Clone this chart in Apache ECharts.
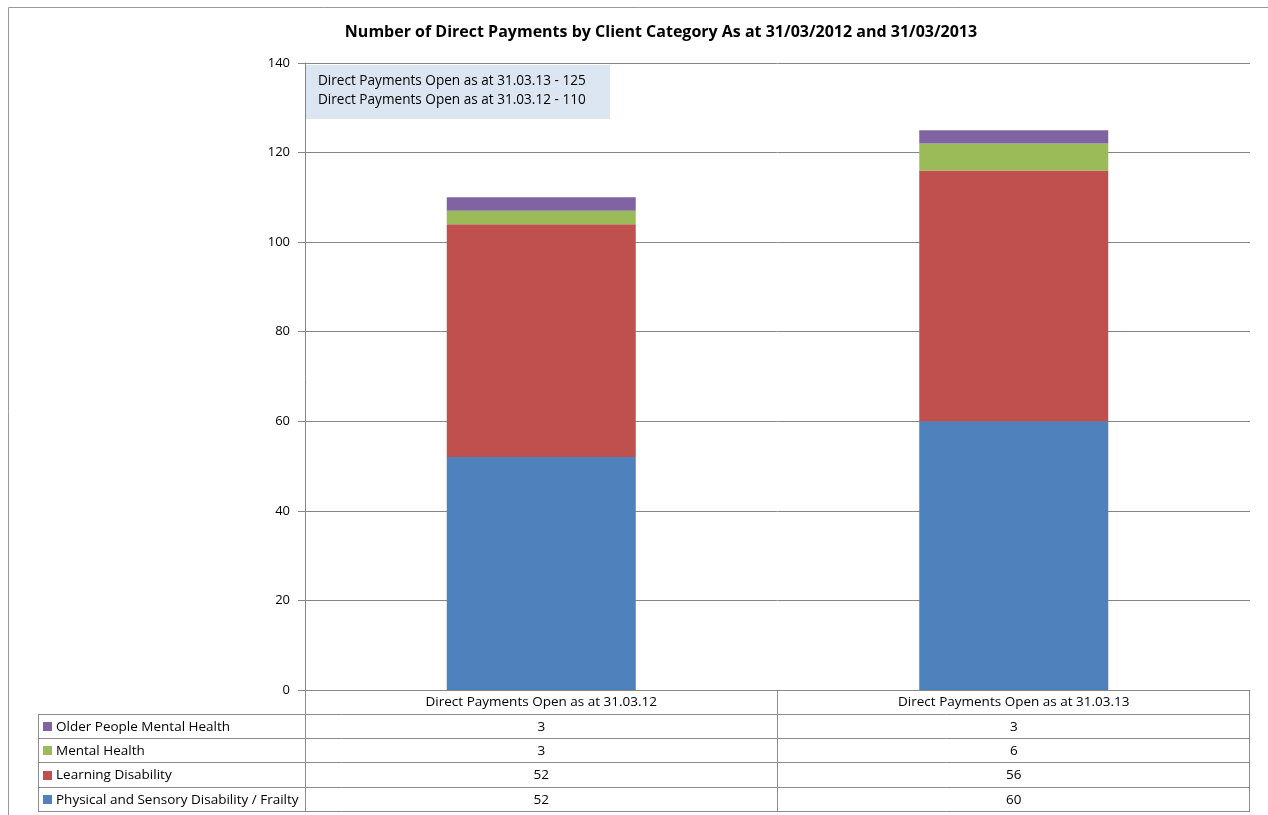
<!DOCTYPE html>
<html>
<head>
<meta charset="utf-8">
<script src="https://cdn.jsdelivr.net/npm/echarts@6/dist/echarts.min.js"></script>
<style>
html,body{margin:0;padding:0;background:#fff;}
#c{width:1268px;height:815px;}
</style>
</head>
<body>
<div id="c"></div>
<script>
const titleText = 'Number of Direct Payments by Client Category As at 31/03/2012 and 31/03/2013';
const categories = ['Direct Payments Open as at 31.03.12', 'Direct Payments Open as at 31.03.13'];
const seriesNames = ['Physical and Sensory Disability / Frailty', 'Learning Disability', 'Mental Health', 'Older People Mental Health'];
const physical = [52, 60];
const learning = [52, 56];
const mentalHealth = [3, 6];
const olderMental = [3, 3];
const seriesColors = ['#4f81bd', '#c0504d', '#9bbb59', '#8064a2'];
const yMin = 0, yMax = 140, yStep = 20;
const noteLines = ['Direct Payments Open as at 31.03.13 - 125', 'Direct Payments Open as at 31.03.12 - 110'];

const FONT = '"Open Sans", "Liberation Sans", sans-serif';
const seriesData = [physical, learning, mentalHealth, olderMental];

const chart = echarts.init(document.getElementById('c'));
const gridL = 305, gridR = 18, gridT = 63, gridB = 125;

chart.setOption({
  animation: false,
  backgroundColor: '#fff',
  grid: { left: gridL, right: gridR, top: gridT, bottom: gridB, containLabel: false },
  xAxis: {
    type: 'category',
    data: categories,
    axisLine: { lineStyle: { color: '#868686', width: 1 } },
    axisTick: { show: false },
    axisLabel: { color: '#000', fontFamily: FONT, fontSize: 13.5, margin: 5 }
  },
  yAxis: {
    type: 'value',
    min: yMin, max: yMax, interval: yStep,
    axisLine: { show: true, lineStyle: { color: '#868686', width: 1 } },
    axisTick: { show: true, length: 7, lineStyle: { color: '#868686' } },
    axisLabel: { color: '#000', fontFamily: FONT, fontSize: 13, margin: 15 },
    splitLine: { lineStyle: { color: '#868686', width: 1 } }
  },
  series: seriesNames.map((n, i) => ({
    name: n,
    type: 'bar',
    stack: 'total',
    barWidth: '40%',
    data: seriesData[i],
    itemStyle: { color: seriesColors[i] }
  }))
});

const elements = [];
elements.push({ type: 'line', shape: { x1: 8.5, y1: 7.5, x2: 1268, y2: 7.5 }, style: { stroke: '#9a9a9a', lineWidth: 1 } });
elements.push({ type: 'line', shape: { x1: 8.5, y1: 7.5, x2: 8.5, y2: 815 }, style: { stroke: '#9a9a9a', lineWidth: 1 } });
elements.push({ type: 'text', x: 661, y: 32, style: { text: titleText, font: 'bold 16px ' + FONT, fill: '#000', textAlign: 'center', textVerticalAlign: 'middle' } });
elements.push({ type: 'rect', shape: { x: 306, y: 65, width: 304, height: 54 }, style: { fill: '#dce6f2' } });
noteLines.forEach((t, i) => {
  elements.push({ type: 'text', x: 318, y: 81 + i * 19, style: { text: t, font: '13.6px ' + FONT, fill: '#000', textVerticalAlign: 'middle' } });
});

const tableLeft = 38.5, tableRight = 1249.5;
const axisY = 690;
const rowYs = [714, 738, 762, 787, 811];
const lineColor = '#8c8c8c';
rowYs.forEach(y => {
  elements.push({ type: 'line', shape: { x1: tableLeft, y1: y + 0.5, x2: tableRight, y2: y + 0.5 }, style: { stroke: lineColor, lineWidth: 1 } });
});
[305.5, 777.5, tableRight].forEach(x => {
  elements.push({ type: 'line', shape: { x1: x, y1: axisY, x2: x, y2: 812 }, style: { stroke: lineColor, lineWidth: 1 } });
});
elements.push({ type: 'line', shape: { x1: tableLeft, y1: 714, x2: tableLeft, y2: 812 }, style: { stroke: lineColor, lineWidth: 1 } });

const rowOrder = [3, 2, 1, 0];
rowOrder.forEach((si, r) => {
  const cy = (rowYs[r] + rowYs[r + 1]) / 2 + 1;
  elements.push({ type: 'rect', shape: { x: 43, y: Math.round(cy) - 5, width: 9, height: 9 }, style: { fill: seriesColors[si] } });
  elements.push({ type: 'text', x: 56, y: cy, style: { text: seriesNames[si], font: '13.5px ' + FONT, fill: '#000', textVerticalAlign: 'middle' } });
  categories.forEach((c, ci) => {
    const cx = chart.convertToPixel({ xAxisIndex: 0 }, ci);
    elements.push({ type: 'text', x: cx, y: cy, style: { text: String(seriesData[si][ci]), font: '13.5px ' + FONT, fill: '#000', textAlign: 'center', textVerticalAlign: 'middle' } });
  });
});

chart.setOption({ graphic: { elements: elements } });
</script>
</body>
</html>
